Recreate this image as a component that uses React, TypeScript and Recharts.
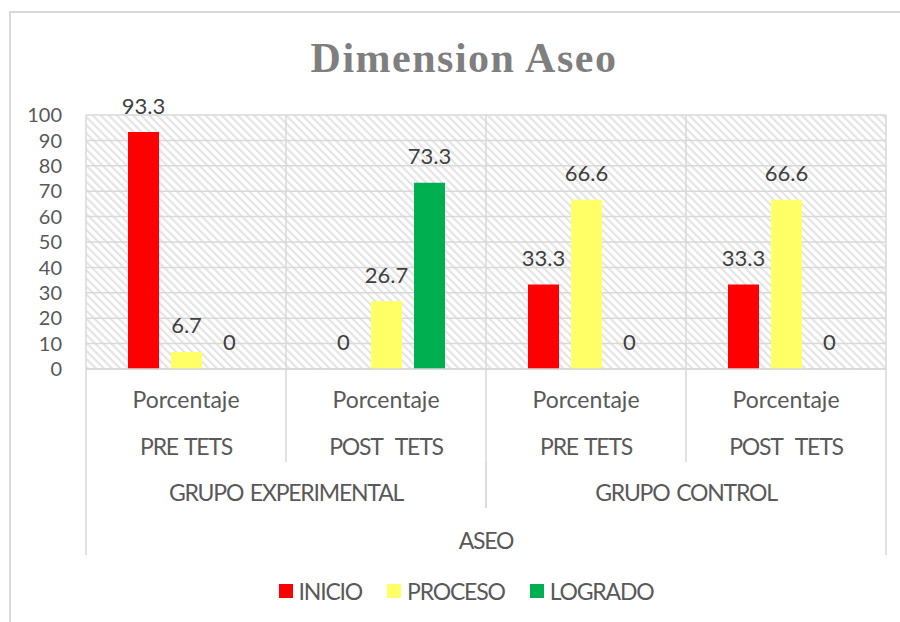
import React from 'react';
import { BarChart, Bar, XAxis, YAxis, CartesianGrid, LabelList, ReferenceLine, Legend } from 'recharts';

const grupos = ['GRUPO EXPERIMENTAL', 'GRUPO EXPERIMENTAL', 'GRUPO CONTROL', 'GRUPO CONTROL'];
const fases = ['PRE TETS', 'POST  TETS', 'PRE TETS', 'POST  TETS'];
const medida = 'Porcentaje';
const dimension = 'ASEO';
const inicio = [93.3, 0, 33.3, 33.3];
const proceso = [6.7, 26.7, 66.6, 66.6];
const logrado = [0, 73.3, 0, 0];
const yTicks = [0, 10, 20, 30, 40, 50, 60, 70, 80, 90, 100];
const seriesNames = ['INICIO', 'PROCESO', 'LOGRADO'];
const seriesColors = ['#FF0000', '#FFFF66', '#00B050'];
const title = 'Dimension Aseo';

const data = fases.map((f, i) => ({
  key: `${grupos[i]}|${f}|${i}`,
  grupo: grupos[i],
  fase: f,
  dim: dimension,
  INICIO: inicio[i],
  PROCESO: proceso[i],
  LOGRADO: logrado[i],
}));

const FONT = 'Lato, "Liberation Sans", sans-serif';
const FS = 23;
const CAPS_LS = -1.2;
const WS = 2;
const TXT = '#595959';
const LINE = '#d9d9d9';

const MainTick = (props: any) => {
  const { x, y, payload, index } = props;
  const half = payload && payload.offset ? payload.offset : 100;
  const row = data.find((d) => d.key === payload.value);
  return (
    <g>
      <text x={x} y={y + 30} textAnchor="middle" dominantBaseline="central" fill={TXT} fontSize={FS} fontFamily={FONT}>{medida}</text>
      <text x={x} y={y + 77} textAnchor="middle" dominantBaseline="central" fill={TXT} fontSize={FS} fontFamily={FONT} letterSpacing={CAPS_LS} wordSpacing={WS} style={{ whiteSpace: 'pre' }}>{row ? row.fase : ''}</text>
      <line x1={x + half} x2={x + half} y1={y} y2={y + 93} stroke={LINE} strokeWidth={1.5} />
      {index === 0 && <line x1={x - half} x2={x - half} y1={y} y2={y + 93} stroke={LINE} strokeWidth={1.5} />}
    </g>
  );
};

const GroupTick = (props: any) => {
  const { x, y, payload } = props;
  const half = payload && payload.offset ? payload.offset : 200;
  return (
    <g>
      <text x={x} y={y + 30} textAnchor="middle" dominantBaseline="central" fill={TXT} fontSize={FS} fontFamily={FONT} letterSpacing={CAPS_LS} wordSpacing={WS}>{payload.value}</text>
      <line x1={x - half} x2={x - half} y1={y} y2={y + 46} stroke={LINE} strokeWidth={1.5} />
      <line x1={x + half} x2={x + half} y1={y} y2={y + 46} stroke={LINE} strokeWidth={1.5} />
    </g>
  );
};

const DimTick = (props: any) => {
  const { x, y, payload } = props;
  const half = payload && payload.offset ? payload.offset : 400;
  return (
    <g>
      <text x={x} y={y + 32} textAnchor="middle" dominantBaseline="central" fill={TXT} fontSize={FS} fontFamily={FONT} letterSpacing={CAPS_LS}>{payload.value}</text>
      <line x1={x - half} x2={x - half} y1={y} y2={y + 47} stroke={LINE} strokeWidth={1.5} />
      <line x1={x + half} x2={x + half} y1={y} y2={y + 47} stroke={LINE} strokeWidth={1.5} />
    </g>
  );
};

const ValueLabel = (props: any) => {
  const { x, y, width, value } = props;
  return (
    <text x={x + width / 2} y={y - 27} textAnchor="middle" dominantBaseline="central" fill="#404040" fontSize={22} fontFamily={FONT}>{String(value)}</text>
  );
};

const LegendContent = (props: any) => {
  const payload = props.payload || [];
  const ordered = seriesNames.map((n) => payload.find((p: any) => p.value === n)).filter(Boolean);
  return (
    <div style={{ height: 48, boxSizing: 'border-box', paddingTop: 24, display: 'flex', justifyContent: 'center', gap: 25, fontFamily: FONT, fontSize: FS, color: TXT }}>
      {ordered.map((p: any) => (
        <div key={p.value} style={{ display: 'flex', alignItems: 'center', height: 24 }}>
          <span style={{ display: 'inline-block', width: 14, height: 14, background: p.color, marginRight: 6 }} />
          <span style={{ letterSpacing: CAPS_LS }}>{p.value}</span>
        </div>
      ))}
    </div>
  );
};

export default function App() {
  return (
    <div style={{ position: 'absolute', left: 0, top: 0, width: 900, height: 622, overflow: 'hidden', background: '#fff' }}>
      <div style={{ position: 'absolute', left: 9, top: 11, width: 930, height: 660, border: '2px solid #d9d9d9', boxSizing: 'border-box' }} />
      <div style={{ position: 'absolute', left: 0, top: 0 }}>
        <BarChart width={900} height={622} data={data} margin={{ top: 115, right: 14, left: 0, bottom: 19 }} barSize={31} barGap={12}>
          <defs>
            <pattern id="hatch" width="5.7" height="5.7" patternUnits="userSpaceOnUse" patternTransform="rotate(-45)">
              <rect x="0" y="0" width="2.2" height="5.7" fill="#e4e4e4" />
            </pattern>
          </defs>
          <CartesianGrid vertical={false} stroke={LINE} strokeWidth={1.5} fill="url(#hatch)" fillOpacity={1} />
          <XAxis dataKey="key" tick={<MainTick />} tickLine={false} tickSize={0} tickMargin={0} height={93} interval={0} axisLine={{ stroke: LINE, strokeWidth: 1.5 }} />
          <XAxis xAxisId="g1" dataKey="grupo" allowDuplicatedCategory={false} tick={<GroupTick />} tickLine={false} tickSize={0} tickMargin={0} height={46} interval={0} axisLine={false} />
          <XAxis xAxisId="g2" dataKey="dim" allowDuplicatedCategory={false} tick={<DimTick />} tickLine={false} tickSize={0} tickMargin={0} height={47} interval={0} axisLine={false} />
          <YAxis width={86} domain={[0, 100]} ticks={yTicks} interval={0} tickLine={false} tickSize={0} tickMargin={24} axisLine={false} tick={{ fill: TXT, fontSize: 20, fontFamily: FONT }} />
          {data.map((d) => (
            <ReferenceLine key={'s' + d.key} x={d.key} position="start" stroke={LINE} strokeWidth={1.5} ifOverflow="visible" />
          ))}
          <ReferenceLine x={data[data.length - 1].key} position="end" stroke={LINE} strokeWidth={1.5} ifOverflow="visible" />
          {seriesNames.map((s, i) => (
            <Bar key={s} dataKey={s} name={s} fill={seriesColors[i]} isAnimationActive={false} minPointSize={0.01}>
              <LabelList dataKey={s} content={<ValueLabel />} />
            </Bar>
          ))}
          <Legend verticalAlign="bottom" height={48} content={<LegendContent />} wrapperStyle={{ left: 9, width: 914 }} />
        </BarChart>
      </div>
      <div style={{ position: 'absolute', left: 9, width: 910, top: 37, textAlign: 'center', fontFamily: '"Liberation Serif", serif', fontWeight: 'bold', fontSize: 42, lineHeight: '42px', letterSpacing: 1.5, color: '#7f7f7f' }}>{title}</div>
    </div>
  );
}
